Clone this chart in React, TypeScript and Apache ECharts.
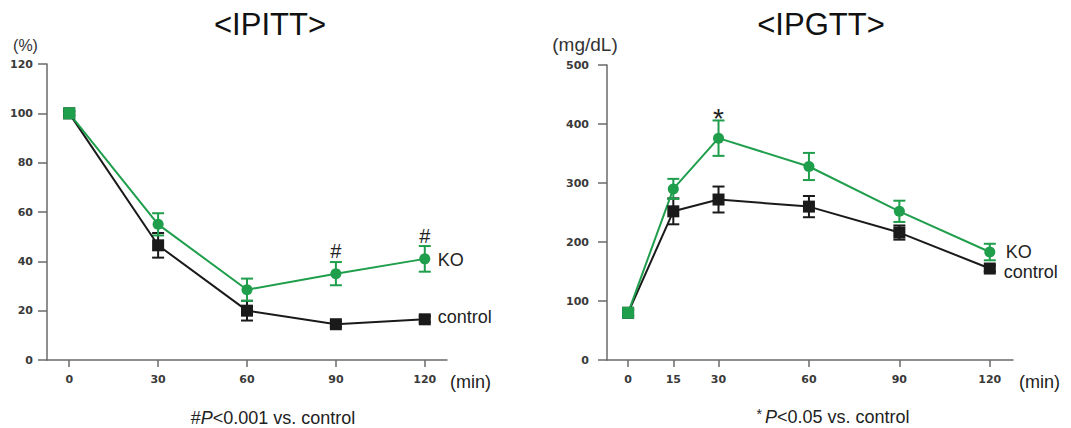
import React, { useEffect, useRef } from "react";
import * as echarts from "echarts";

// ---- Data ----
const ipittTime = [0, 30, 60, 90, 120];
const ipittControl = [100, 46.5, 20, 14.5, 16.5];
const ipittControlErr = [0.8, 5, 4, 1.2, 1.2];
const ipittKO = [100, 55, 28.5, 35, 41];
const ipittKOErr = [0.8, 4.5, 4.5, 4.7, 5.2];
const ipittMarks = ["", "", "", "#", "#"];
const ipittXTicks = [0, 30, 60, 90, 120];

const ipgttTime = [0, 15, 30, 60, 90, 120];
const ipgttControl = [80, 252, 272, 260, 216, 155];
const ipgttControlErr = [5, 22, 22, 18, 12, 5];
const ipgttKO = [80, 290, 376, 328, 252, 183];
const ipgttKOErr = [5, 17, 30, 23, 18, 14];
const ipgttMarks = ["", "", "*", "", "", ""];
const ipgttXTicks = [0, 15, 30, 60, 90, 120];

const GREEN = "#1f9e4c";
const BLACK = "#1a1a1a";
const AXIS = "#6a6a6a";
const LABEL = "#3a3a3a";

function errSeries(times: number[], vals: number[], errs: number[], color: string, axis: number) {
  return {
    type: "custom",
    xAxisIndex: axis,
    yAxisIndex: axis,
    z: 3,
    silent: true,
    data: times.map((t, i) => [t, vals[i], errs[i]]),
    renderItem: (params: any, api: any) => {
      const x = api.value(0);
      const y = api.value(1);
      const e = api.value(2);
      const top = api.coord([x, y + e]);
      const bot = api.coord([x, y - e]);
      const half = 6;
      const st = { stroke: color, lineWidth: 2 };
      return {
        type: "group",
        children: [
          { type: "line", shape: { x1: top[0], y1: top[1], x2: bot[0], y2: bot[1] }, style: st },
          { type: "line", shape: { x1: top[0] - half, y1: top[1], x2: top[0] + half, y2: top[1] }, style: st },
          { type: "line", shape: { x1: bot[0] - half, y1: bot[1], x2: bot[0] + half, y2: bot[1] }, style: st },
        ],
      };
    },
  };
}

function lineSeries(
  name: string,
  times: number[],
  vals: number[],
  color: string,
  symbol: string,
  axis: number,
  endDist: number,
  endOffset: number[],
  marks?: string[],
  markDist?: number,
  markSize?: number
) {
  return {
    type: "line",
    name,
    xAxisIndex: axis,
    yAxisIndex: axis,
    z: 4,
    symbol,
    symbolSize: symbol === "rect" ? 12 : 11,
    showAllSymbol: true,
    lineStyle: { color, width: 2 },
    itemStyle: { color, borderWidth: 0 },
    data: times.map((t, i) => {
      const item: any = { value: [t, vals[i]] };
      if (i === 0) {
        item.symbol = "rect";
        item.symbolSize = 12;
      }
      if (marks && marks[i]) {
        item.label = {
          show: true,
          position: "top",
          distance: markDist,
          formatter: marks[i],
          fontSize: markSize,
          color: "#222",
          fontFamily: "Liberation Sans",
        };
      }
      return item;
    }),
    endLabel: {
      show: true,
      formatter: name,
      distance: endDist,
      offset: endOffset,
      fontSize: 18,
      color: "#222",
      fontFamily: "Liberation Sans",
    },
  };
}

function xAxisOpt(grid: number, min: number, max: number, ticks: number[]) {
  return {
    type: "value",
    gridIndex: grid,
    min,
    max,
    axisLine: { show: true, onZero: false, lineStyle: { color: AXIS, width: 1.5 } },
    axisTick: { show: true, length: 7, customValues: ticks, lineStyle: { color: AXIS, width: 1.5 } },
    axisLabel: {
      customValues: ticks,
      margin: 14,
      color: LABEL,
      fontSize: 11,
      fontWeight: "bold",
      fontFamily: "DejaVu Sans",
    },
    splitLine: { show: false },
  };
}

function yAxisOpt(grid: number, max: number, interval: number, margin: number) {
  return {
    type: "value",
    gridIndex: grid,
    min: 0,
    max,
    interval,
    axisLine: { show: true, onZero: false, lineStyle: { color: AXIS, width: 1.5 } },
    axisTick: { show: true, length: 9, lineStyle: { color: AXIS, width: 1.5 } },
    axisLabel: {
      margin,
      color: LABEL,
      fontSize: 11,
      fontWeight: "bold",
      fontFamily: "DejaVu Sans",
    },
    splitLine: { show: false },
  };
}

export default function App() {
  const ref = useRef<HTMLDivElement>(null);
  useEffect(() => {
    if (!ref.current) return;
    const chart = echarts.init(ref.current, undefined, { renderer: "svg" });
    const font = "Liberation Sans";
    chart.setOption({
      animation: false,
      backgroundColor: "#ffffff",
      grid: [
        { left: 47, top: 64, width: 400, height: 296 },
        { left: 607, top: 65, width: 406, height: 295 },
      ],
      xAxis: [xAxisOpt(0, -7.5, 127.5, ipittXTicks), xAxisOpt(1, -7, 127.7, ipgttXTicks)],
      yAxis: [yAxisOpt(0, 120, 20, 14), yAxisOpt(1, 500, 100, 18)],
      series: [
        errSeries(ipittTime, ipittControl, ipittControlErr, BLACK, 0),
        errSeries(ipittTime, ipittKO, ipittKOErr, GREEN, 0),
        lineSeries("control", ipittTime, ipittControl, BLACK, "rect", 0, 13, [0, -2]),
        lineSeries("KO", ipittTime, ipittKO, GREEN, "circle", 0, 13, [0, 1], ipittMarks, 7, 20),
        errSeries(ipgttTime, ipgttControl, ipgttControlErr, BLACK, 1),
        errSeries(ipgttTime, ipgttKO, ipgttKOErr, GREEN, 1),
        lineSeries("control", ipgttTime, ipgttControl, BLACK, "rect", 1, 14, [0, 3]),
        lineSeries("KO", ipgttTime, ipgttKO, GREEN, "circle", 1, 16, [0, 0], ipgttMarks, 0, 28),
      ],
      graphic: [
        {
          type: "text",
          x: 270,
          y: 24,
          style: { text: "<IPITT>", fontSize: 31, fontFamily: font, fill: "#111", align: "center", verticalAlign: "middle" },
        },
        {
          type: "text",
          x: 821,
          y: 24,
          style: { text: "<IPGTT>", fontSize: 31, fontFamily: font, fill: "#111", align: "center", verticalAlign: "middle" },
        },
        {
          type: "text",
          x: 25.5,
          y: 45,
          style: { text: "(%)", fontSize: 16, fontFamily: font, fill: "#333", align: "center", verticalAlign: "middle" },
        },
        {
          type: "text",
          x: 585,
          y: 44,
          style: { text: "(mg/dL)", fontSize: 19, fontFamily: font, fill: "#333", align: "center", verticalAlign: "middle" },
        },
        {
          type: "text",
          x: 450,
          y: 382,
          style: { text: "(min)", fontSize: 18, fontFamily: font, fill: "#222", align: "left", verticalAlign: "middle" },
        },
        {
          type: "text",
          x: 1019,
          y: 382,
          style: { text: "(min)", fontSize: 18, fontFamily: font, fill: "#222", align: "left", verticalAlign: "middle" },
        },
        {
          type: "text",
          x: 273,
          y: 418,
          style: {
            text: "{a|#}{p|P}{a|<0.001 vs. control}",
            align: "center",
            verticalAlign: "middle",
            rich: {
              a: { fontSize: 18, fontFamily: font, fill: "#222" },
              p: { fontSize: 18, fontFamily: font, fontStyle: "italic", fill: "#222" },
            },
          },
        },
        {
          type: "text",
          x: 833,
          y: 417,
          style: {
            text: "{s|*}{p|P}{a|<0.05 vs. control}",
            align: "center",
            verticalAlign: "middle",
            rich: {
              s: { fontSize: 14, fontFamily: font, fill: "#222", verticalAlign: "top", padding: [0, 3, 6, 0] },
              a: { fontSize: 18, fontFamily: font, fill: "#222" },
              p: { fontSize: 18, fontFamily: font, fontStyle: "italic", fill: "#222" },
            },
          },
        },
      ],
    });
    return () => chart.dispose();
  }, []);
  return (
    <div
      ref={ref}
      style={{ position: "fixed", left: 0, top: 0, width: 1071, height: 428, background: "#fff" }}
    />
  );
}
